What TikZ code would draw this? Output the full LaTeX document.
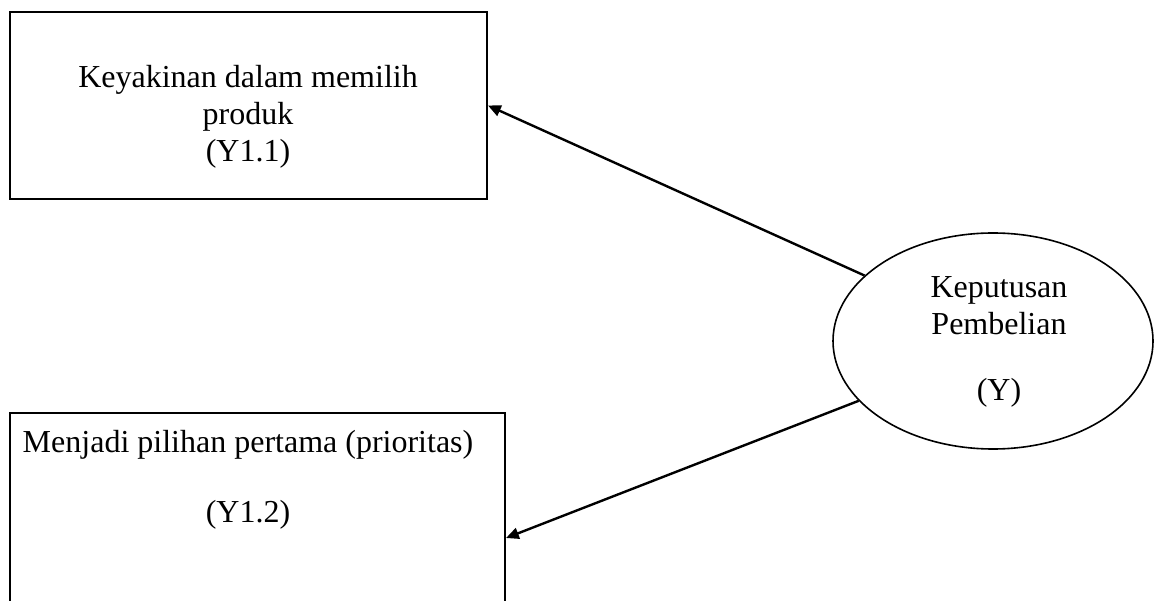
\documentclass[tikz,border=0pt]{standalone}
\usepackage{fontspec}
\setmainfont{Liberation Serif}
\usetikzlibrary{arrows.meta,shapes.geometric}
\begin{document}
\begin{tikzpicture}[x=0.375pt,y=-0.375pt,
  indbox/.style={draw,line width=0.75pt,rectangle,inner sep=0pt},
  latent/.style={draw,line width=0.6pt,ellipse,inner sep=0pt,
    minimum width=320*0.375pt,minimum height=216*0.375pt},
  lbl/.style={align=center,font=\fontsize{12pt}{13.8pt}\selectfont,inner sep=0pt},
  link/.style={line width=0.9pt,-{Triangle[length=4.8pt,width=4.2pt]}}]
\useasboundingbox (0,0) rectangle (1154,601);
\clip (0,0) rectangle (1154,601);
\fill[white] (0,0) rectangle (1154,601);
% indicator boxes (the lower one runs past the page edge)
\node[indbox,minimum width=477*0.375pt,minimum height=187*0.375pt] (ind1) at (248.5,105.5) {};
\node[indbox,minimum width=495*0.375pt,minimum height=250*0.375pt] (ind2) at (257.5,538) {};
% latent variable
\node[latent] (lat) at (993,341) {};
% labels
\node[lbl] (ind1txt) at (248,117) {Keyakinan dalam memilih\\produk\\(Y1.1)};
\node[lbl] (ind2txt) at (248,480) {Menjadi pilihan pertama (prioritas)\\[12.4pt](Y1.2)};
\node[lbl] (lattxt) at (999,342) {Keputusan\\Pembelian\\[10.9pt](Y)};
% loadings
\draw[link] (lat.153.6) -- (ind1.east);
\draw[link] (lat.204) -- (ind2.east);
\end{tikzpicture}
\end{document}
